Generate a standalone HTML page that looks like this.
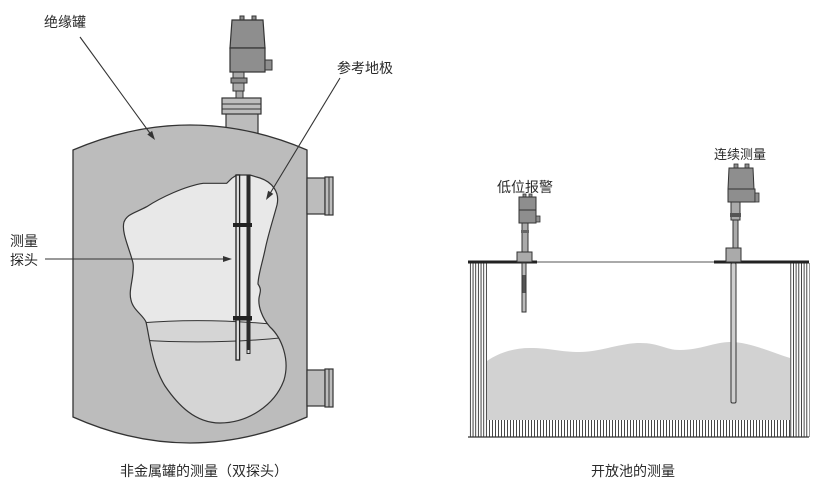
<!DOCTYPE html>
<html><head><meta charset="utf-8"><style>
html,body{margin:0;padding:0;background:#fff;}
svg{display:block;}
text{font-family:"Liberation Sans","Noto Sans CJK SC",sans-serif;fill:#2a2a2a;font-size:14px;}
</style></head><body>
<svg width="821" height="500" viewBox="0 0 821 500" xmlns="http://www.w3.org/2000/svg">
<defs>
<clipPath id="cut"><path id="cutp" d="M231.7,178.3 L226.7,183.3 L203.3,183.3 C185,186 160,198 146.7,206.7 C135,213 127,214 124,222 C121,232 130,250 133,263 C135,275 128,290 131,300 C133,310 143,315 146,322 C150,340 152,365 165,386 C178,405 195,423 220,423 C248,423 275,405 284,380 C290,360 282,338 270,327 C262,318 258,306 259,298 C260,292 262,290 258,284 C258,276 262,264 265,250 C268,235 273,220 277,205 C280,192 272,182 260,178 L250,175 L236.7,175 Z"/></clipPath>
<pattern id="hw" width="2.67" height="10" patternUnits="userSpaceOnUse"><rect x="0" y="0" width="0.9" height="10" fill="#333"/></pattern>
<pattern id="hb" width="3" height="10" patternUnits="userSpaceOnUse"><rect x="0" y="0" width="0.9" height="10" fill="#333"/></pattern>
</defs>

<!-- ===== Left: tank ===== -->
<rect x="226" y="113" width="32" height="22" fill="#bcbcbc" stroke="#333" stroke-width="1.2"/>
<path d="M73,150 Q190,100 307,150 L307,417 Q190,469 73,417 Z" fill="#bcbcbc" stroke="#333" stroke-width="1.3"/>
<rect x="307" y="178" width="18" height="36" fill="#bcbcbc" stroke="#333" stroke-width="1.2"/>
<rect x="325" y="177" width="8" height="38" fill="#bcbcbc" stroke="#333" stroke-width="1.2"/>
<line x1="329" y1="177" x2="329" y2="215" stroke="#333" stroke-width="1"/>
<rect x="307" y="370" width="18" height="36" fill="#bcbcbc" stroke="#333" stroke-width="1.2"/>
<rect x="325" y="369" width="8" height="38" fill="#bcbcbc" stroke="#333" stroke-width="1.2"/>
<line x1="329" y1="369" x2="329" y2="407" stroke="#333" stroke-width="1"/>
<use href="#cutp" fill="#e8e8e8"/>
<g clip-path="url(#cut)">
<path d="M120,323 Q210,317 300,326 L300,440 L120,440 Z" fill="#d5d5d5"/>
<path d="M140,323 Q210,317 290,326" fill="none" stroke="#333" stroke-width="1"/>
<path d="M140,340 Q215,345 290,337" fill="none" stroke="#333" stroke-width="1"/>
</g>
<use href="#cutp" fill="none" stroke="#333" stroke-width="1.2"/>
<rect x="236" y="175" width="3.6" height="185" fill="#e0e0e0" stroke="#222" stroke-width="1.3"/>
<rect x="246.5" y="175" width="4" height="179" fill="#2a2a2a"/>
<rect x="247.5" y="350" width="2" height="3" fill="#ddd"/>
<rect x="233" y="223" width="19" height="4" fill="#222"/>
<rect x="233" y="316" width="19" height="4.5" fill="#222"/>
<rect x="222" y="98" width="39" height="16" fill="#bcbcbc" stroke="#333" stroke-width="1.2"/>
<line x1="222" y1="104" x2="261" y2="104" stroke="#333" stroke-width="1"/>
<line x1="222" y1="109" x2="261" y2="109" stroke="#333" stroke-width="1"/>
<rect x="236" y="90" width="7" height="8" fill="#aaa" stroke="#333" stroke-width="1"/>
<rect x="233" y="72" width="11" height="19" fill="#aaa" stroke="#333" stroke-width="1"/>
<rect x="231" y="78" width="16" height="5" fill="#8a8a8a" stroke="#333" stroke-width="1"/>
<rect x="240" y="16" width="4" height="5" fill="#8e8e8e" stroke="#333" stroke-width="1"/>
<rect x="252" y="16" width="4" height="5" fill="#8e8e8e" stroke="#333" stroke-width="1"/>
<path d="M232,20 L263,20 L265,48 L230,48 Z" fill="#8e8e8e" stroke="#333" stroke-width="1.2"/>
<rect x="230" y="48" width="35" height="24" fill="#8e8e8e" stroke="#333" stroke-width="1.2"/>
<rect x="265" y="60" width="7" height="10" fill="#8e8e8e" stroke="#333" stroke-width="1"/>
<line x1="80" y1="37" x2="152" y2="136" stroke="#333" stroke-width="1.1"/>
<polygon points="155,140 147.3,134.5 152.1,130.9" fill="#333"/>
<line x1="340" y1="78" x2="268.5" y2="196" stroke="#333" stroke-width="1.1"/>
<polygon points="266,200 273.3,193.9 268.1,190.7" fill="#333"/>
<line x1="45" y1="259" x2="225" y2="259" stroke="#333" stroke-width="1.1"/>
<polygon points="232,259 223,256 223,262" fill="#333"/>
<text x="44" y="27">绝缘罐</text>
<text x="337" y="73">参考地极</text>
<text x="10" y="246">测量</text>
<text x="10" y="265">探头</text>
<text x="204" y="476" text-anchor="middle">非金属罐的测量（双探头）</text>

<!-- ===== Right: open pool ===== -->
<path d="M487,361 C500,352 515,348 530,348 C550,348 560,352 580,352 C600,352 620,343 640,343 C660,343 665,350 680,350 C700,350 715,342 730,342 C750,342 770,352 790,358 L790,420 L487,420 Z" fill="#d2d2d2"/>
<rect x="469" y="263" width="19" height="174" fill="url(#hw)"/>
<rect x="790" y="263" width="19.5" height="174" fill="url(#hw)"/>
<rect x="488" y="420" width="302" height="17" fill="url(#hb)"/>
<line x1="468" y1="437" x2="809" y2="437" stroke="#333" stroke-width="1.2"/>
<line x1="537" y1="262" x2="714" y2="262" stroke="#555" stroke-width="1"/>
<rect x="468" y="260.5" width="69" height="3" fill="#222"/>
<rect x="714" y="260.5" width="95" height="3" fill="#222"/>
<rect x="522" y="263" width="4" height="49" fill="#bbb" stroke="#333" stroke-width="1"/>
<rect x="522.5" y="275" width="3" height="18" fill="#555"/>
<rect x="522" y="223" width="6" height="29" fill="#aaa" stroke="#333" stroke-width="1"/>
<rect x="521" y="230" width="8" height="3" fill="#666"/>
<rect x="517" y="252" width="15" height="10" fill="#aaa" stroke="#333" stroke-width="1"/>
<rect x="523" y="194" width="3" height="3" fill="#8e8e8e" stroke="#333" stroke-width="0.8"/>
<rect x="529" y="194" width="3" height="3" fill="#8e8e8e" stroke="#333" stroke-width="0.8"/>
<rect x="519" y="197" width="17" height="26" fill="#8e8e8e" stroke="#333" stroke-width="1"/>
<line x1="519" y1="210" x2="536" y2="210" stroke="#333" stroke-width="1"/>
<rect x="536" y="216" width="4" height="6" fill="#8e8e8e" stroke="#333" stroke-width="0.8"/>
<rect x="731" y="263" width="5" height="140" rx="1.5" fill="#cfcfcf" stroke="#333" stroke-width="1"/>
<rect x="733" y="220" width="5" height="28" fill="#aaa" stroke="#333" stroke-width="1"/>
<rect x="731" y="202" width="9" height="18" fill="#aaa" stroke="#333" stroke-width="1"/>
<rect x="730" y="213" width="11" height="4" fill="#555"/>
<rect x="726" y="248" width="15" height="14" fill="#aaa" stroke="#333" stroke-width="1"/>
<rect x="734" y="164" width="4" height="4" fill="#8e8e8e" stroke="#333" stroke-width="0.8"/>
<rect x="745" y="164" width="4" height="4" fill="#8e8e8e" stroke="#333" stroke-width="0.8"/>
<path d="M729,168 L753,168 L754,189 L728,189 Z" fill="#8e8e8e" stroke="#333" stroke-width="1"/>
<rect x="728" y="189" width="27" height="13" fill="#8e8e8e" stroke="#333" stroke-width="1"/>
<rect x="755" y="193" width="4" height="9" fill="#8e8e8e" stroke="#333" stroke-width="0.8"/>
<text x="525" y="192" text-anchor="middle">低位报警</text>
<text x="740" y="159" text-anchor="middle" style="font-size:13px">连续测量</text>
<text x="633" y="476" text-anchor="middle">开放池的测量</text>
</svg>
</body></html>
